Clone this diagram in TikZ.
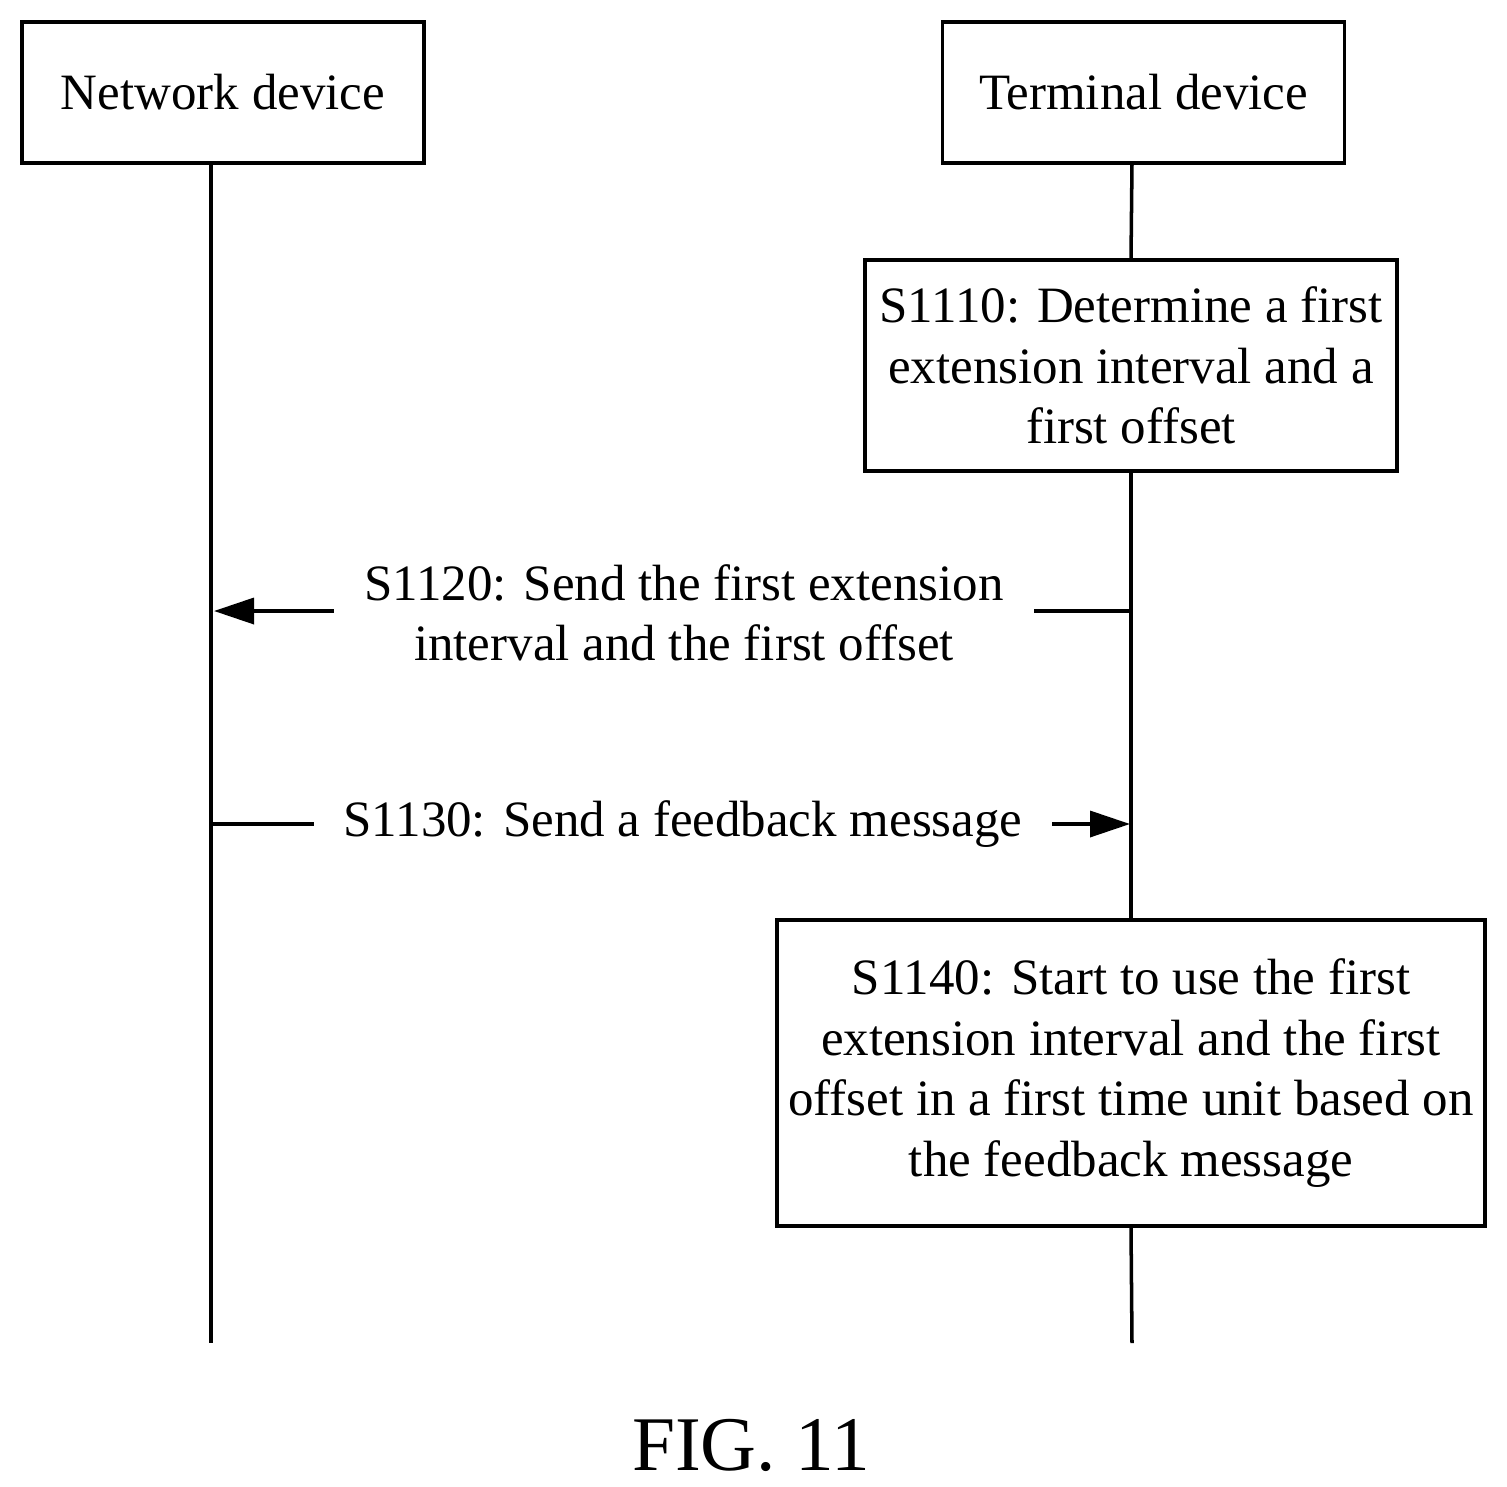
\documentclass[tikz,border=0pt]{standalone}
\usepackage{fontspec}
\setmainfont{Liberation Serif}
\usetikzlibrary{arrows.meta}
\tikzset{
  actor/.style={draw, line width=1pt, minimum width=4.02cm, minimum height=1.41cm},
  procbox/.style={draw, line width=1pt, align=center, inner sep=0pt},
  life/.style={line width=1pt},
  msg/.style={line width=1pt, -{Triangle[length=0.4cm,width=0.26cm]}},
  lbl/.style={fill=white, align=center, inner xsep=0.3cm}
}
\begin{document}
\begin{tikzpicture}[font=\fontsize{14.5}{17.2}\selectfont]
\useasboundingbox (0,0) rectangle (15.07,-14.86);

% Participants
\node[actor] (net) at (2.23,-0.925) {Network device};
\node[actor] (term) at (11.435,-0.925) {Terminal device};

% Lifeline ends
\coordinate (netend) at (2.11,-13.43);
\coordinate (termend) at (11.32,-13.43);

% Steps
\node[procbox, minimum width=5.32cm, minimum height=2.11cm] (s1110) at (11.31,-3.655)
  {S1110: Determine a first\\extension interval and a\\first offset};
\node[procbox, minimum width=7.08cm, minimum height=3.06cm] (s1140) at (11.31,-10.73)
  {S1140: Start to use the first\\extension interval and the first\\offset in a first time unit based on\\the feedback message};

% Lifelines
\draw[life] (2.11,-1.63) -- (netend);
\draw[life] (11.32,-1.63) -- (s1110.north);
\draw[life] (s1110.south) -- (s1140.north);
\draw[life] (s1140.south) -- (termend);

% Messages
\coordinate (m1a) at (11.32,-6.11);
\coordinate (m1b) at (2.14,-6.11);
\draw[msg] (m1a) -- (m1b);
\node[lbl] (s1120) at (6.84,-6.13) {S1120: Send the first extension\\interval and the first offset};

\coordinate (m2a) at (2.11,-8.24);
\coordinate (m2b) at (11.30,-8.24);
\draw[msg] (m2a) -- (m2b);
\node[lbl] (s1130) at (6.83,-8.24) {S1130: Send a feedback message};

% Caption
\node[font=\fontsize{22}{26}\selectfont] (cap) at (7.51,-14.45) {FIG. 11};
\end{tikzpicture}
\end{document}
